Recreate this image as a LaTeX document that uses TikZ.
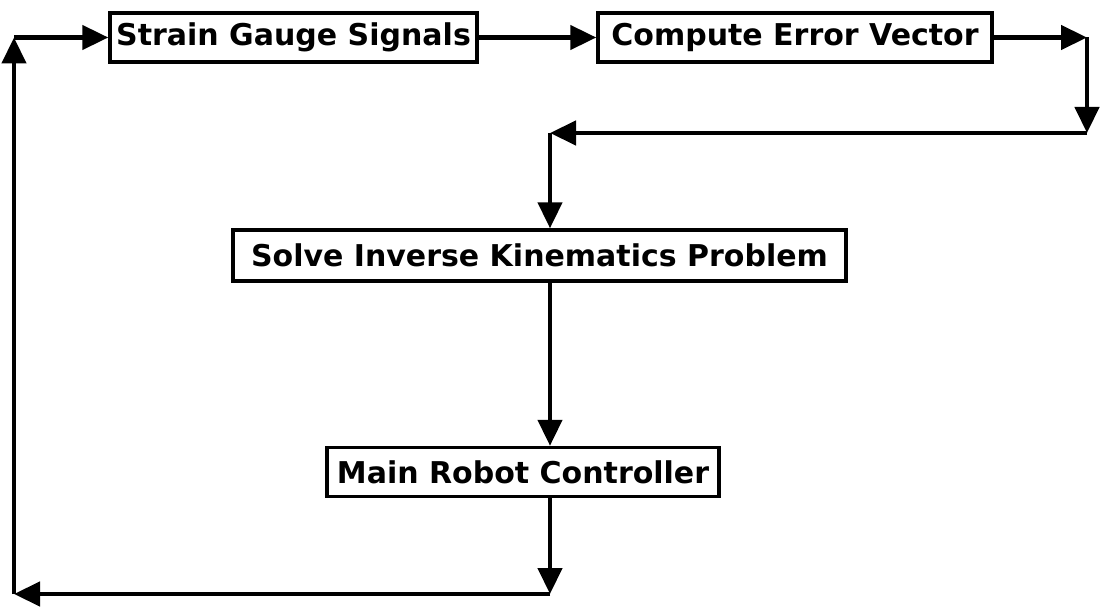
\documentclass[tikz,border=0pt]{standalone}
\usepackage{fontspec}
\newfontfamily\boxfont{DejaVu Sans}
\usetikzlibrary{arrows.meta}
\begin{document}
\begin{tikzpicture}[x=0.5pt,y=-0.5pt,
  stagebox/.style={draw,line width=1.7pt,inner sep=0pt,
    font=\boxfont\bfseries\fontsize{15pt}{18pt}\selectfont},
  flow/.style={line width=2.2pt,-{Triangle[length=13pt,width=12pt]}}]
\useasboundingbox (0,0) rectangle (1103,609);

% processing stages
\node[stagebox,minimum width=183.5pt,minimum height=24.5pt] (sg) at (293.5,37.5) {Strain Gauge Signals};
\node[stagebox,minimum width=197pt,minimum height=24.5pt] (ce) at (795,37.5) {Compute Error Vector};
\node[stagebox,minimum width=306.5pt,minimum height=25.5pt] (ik) at (539.5,255.5) {Solve Inverse Kinematics Problem};
\node[stagebox,minimum width=196pt,minimum height=24.5pt] (rc) at (523,472) {Main Robot Controller};

% routing corners
\coordinate (r1) at (1087,37.5);
\coordinate (r2) at (1087,133);
\coordinate (r3) at (550,133);
\coordinate (l1) at (550,594);
\coordinate (l2) at (14,594);
\coordinate (l3) at (14,37.5);

% forward path
\draw[flow] (sg.east) -- (ce.west);
\draw[flow] (ce.east) -- (r1);
\draw[flow] (r1) -- (r2);
\draw[flow] (r2) -- (r3);
\draw[flow] (r3) -- (ik.north -| r3);
\draw[flow] (ik.south -| r3) -- (rc.north -| r3);

% feedback loop
\draw[flow] (rc.south -| l1) -- (l1);
\draw[flow] (l1) -- (l2);
\draw[flow] (l2) -- (l3);
\draw[flow] (l3) -- (sg.west);
\end{tikzpicture}
\end{document}
